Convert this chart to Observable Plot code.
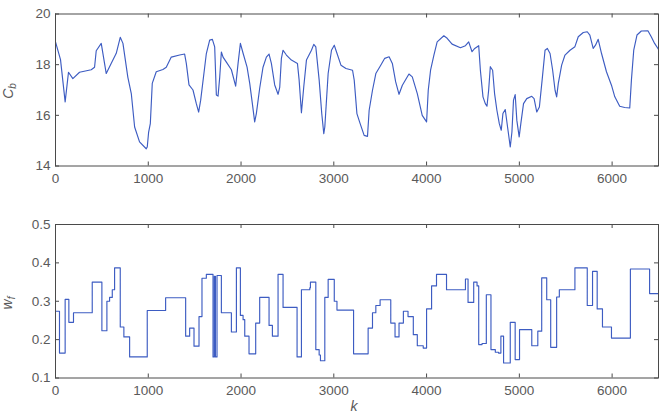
<!DOCTYPE html>
<html>
<head>
<meta charset="utf-8">
<script src="https://cdn.jsdelivr.net/npm/d3@7"></script>
<script src="https://cdn.jsdelivr.net/npm/@observablehq/plot@0.6"></script>
<style>
  html, body { margin: 0; padding: 0; background: #fff; }
  #wrap { width: 666px; height: 414px; overflow: hidden; position: relative; }
  #wrap svg { display: block; }
</style>
</head>
<body>
<div id="wrap"></div>
<script>
// ---- data ----
const xTicks = [0, 1000, 2000, 3000, 4000, 5000, 6000];
const cbTicks = [14, 16, 18, 20];
const wfTicks = [0.1, 0.2, 0.3, 0.4, 0.5];

const cbK = [0,54,104,140,187,259,385,421,439,493,547,600,655,698,727,780,817,853,906,978,989,1004,1022,1043,1086,1158,1194,1248,1338,1392,1410,1439,1482,1518,1543,1565,1608,1626,1662,1691,1716,1734,1752,1770,1788,1806,1842,1896,1942,1968,1993,2022,2065,2094,2122,2147,2165,2201,2237,2273,2302,2327,2363,2399,2417,2435,2453,2489,2543,2608,2626,2651,2676,2705,2759,2784,2806,2842,2870,2892,2903,2939,2975,3005,3023,3077,3131,3202,3220,3249,3284,3327,3363,3381,3417,3453,3506,3549,3596,3631,3667,3703,3739,3810,3846,3900,3953,4000,4018,4043,4079,4114,4186,4222,4275,4365,4419,4454,4490,4519,4562,4580,4608,4633,4651,4669,4687,4712,4733,4758,4784,4805,4823,4848,4873,4902,4920,4937,4955,4973,4998,5016,5045,5080,5134,5159,5188,5216,5249,5277,5302,5331,5359,5385,5402,5420,5456,5492,5546,5599,5635,5689,5732,5760,5796,5821,5850,5886,5939,5993,6029,6082,6136,6190,6208,6233,6268,6315,6386,6422,6458,6494,6500];
const cbV = [18.9,18.2,16.53,17.7,17.45,17.7,17.8,17.9,18.55,18.84,17.65,18.05,18.45,19.08,18.84,17.5,16.86,15.54,14.95,14.68,14.75,15.34,15.67,17.26,17.72,17.81,17.9,18.3,18.38,18.42,18.05,17.2,17.0,16.46,16.13,16.6,17.9,18.44,18.97,19.0,18.7,16.8,16.76,17.5,18.5,18.3,18.1,17.8,17.15,18.05,18.84,18.45,17.9,17.25,16.46,15.74,16.07,17.07,17.9,18.3,18.42,18.05,17.2,16.83,17.1,18.25,18.57,18.38,18.18,18.05,17.4,16.1,17.12,18.18,18.57,18.8,18.7,17.4,16.07,15.28,15.54,17.65,18.57,18.77,18.57,17.98,17.85,17.78,17.39,16.07,15.67,15.21,15.17,16.2,16.99,17.65,17.98,18.25,18.31,18.05,17.32,16.83,17.19,17.63,17.52,16.86,16.0,15.74,16.99,17.78,18.38,18.9,19.14,19.04,18.81,18.67,18.75,18.9,18.51,18.64,18.75,17.78,16.73,16.46,16.36,16.99,17.92,17.78,16.86,16.2,15.67,15.41,16.07,16.23,15.54,14.75,15.34,16.6,16.82,15.8,15.15,15.67,16.46,16.66,16.75,16.66,16.13,16.33,17.52,18.57,18.64,18.44,17.78,16.99,16.73,17.26,17.98,18.38,18.57,18.71,19.1,19.27,19.3,19.17,18.64,18.77,19.0,18.44,17.72,17.19,16.73,16.36,16.31,16.29,17.39,18.57,19.17,19.33,19.34,19.1,18.84,18.64,18.6];

const wfK = [0,43,104,144,194,396,500,554,583,612,637,698,737,799,989,1187,1403,1446,1493,1547,1579,1626,1698,1712,1724,1741,1788,1896,1950,1993,2022,2040,2086,2158,2201,2302,2338,2399,2453,2604,2651,2741,2748,2806,2842,2856,2903,2939,3005,3034,3213,3370,3417,3453,3499,3614,3660,3703,3750,3800,3857,3900,3964,4000,4054,4107,4215,4419,4447,4508,4544,4562,4598,4644,4694,4741,4776,4801,4830,4902,4955,5002,5134,5199,5241,5295,5338,5402,5431,5599,5732,5789,5839,5896,5993,6197,6404,6500];
const wfV = [0.274,0.165,0.305,0.245,0.27,0.35,0.223,0.3,0.31,0.33,0.387,0.233,0.207,0.155,0.276,0.309,0.209,0.23,0.183,0.26,0.36,0.37,0.155,0.365,0.155,0.367,0.27,0.22,0.387,0.263,0.252,0.209,0.163,0.243,0.31,0.237,0.209,0.37,0.284,0.155,0.33,0.335,0.35,0.174,0.16,0.145,0.31,0.357,0.3,0.277,0.163,0.23,0.27,0.289,0.304,0.243,0.207,0.243,0.274,0.26,0.213,0.184,0.178,0.28,0.34,0.37,0.33,0.358,0.297,0.35,0.34,0.187,0.19,0.317,0.174,0.167,0.165,0.209,0.139,0.245,0.148,0.226,0.184,0.222,0.361,0.304,0.18,0.311,0.33,0.387,0.289,0.378,0.28,0.233,0.204,0.384,0.32,0.32];

// ---- build ----
const cbData = cbK.map((k, i) => ({k, v: cbV[i]}));
const wfData = wfK.map((k, i) => ({k, v: wfV[i]}));
if (cbK.length !== cbV.length || wfK.length !== wfV.length) console.error("length mismatch", cbK.length, cbV.length, wfK.length, wfV.length);

const W = 666;
const lineColor = "#3d5cc2";
const axisColor = "#4a4a4a";
const textColor = "#5a5a5a";
const font = "'Liberation Sans', Arial, sans-serif";
const tickLen = 4;

function panel({H, mt, mb, yDomain, yTicks, yFmt, data, curve}) {
  const ml = 55, mr = 8;
  const ph = H - mt - mb, pw = W - ml - mr;
  return Plot.plot({
    width: W, height: H,
    marginLeft: ml, marginRight: mr, marginTop: mt, marginBottom: mb,
    style: {fontFamily: font, fontSize: "13.5px", color: textColor, background: "transparent"},
    x: {domain: [0, 6500]},
    y: {domain: yDomain},
    marks: [
      Plot.line(data, {x: "k", y: "v", stroke: lineColor, strokeWidth: 1.15, curve}),
      Plot.tickX(xTicks, {x: d => d, insetTop: ph - tickLen, stroke: axisColor}),
      Plot.tickX(xTicks, {x: d => d, insetBottom: ph - tickLen, stroke: axisColor}),
      Plot.tickY(yTicks, {y: d => d, insetRight: pw - tickLen, stroke: axisColor}),
      Plot.tickY(yTicks, {y: d => d, insetLeft: pw - tickLen, stroke: axisColor}),
      Plot.axisX({ticks: xTicks, tickSize: 0, tickPadding: 7, label: null, tickFormat: d => String(d)}),
      Plot.axisY({ticks: yTicks, tickSize: 0, tickPadding: 5, label: null, tickFormat: yFmt}),
      Plot.frame({stroke: axisColor, strokeWidth: 1})
    ]
  });
}

const topPanel = panel({H: 200, mt: 13.5, mb: 34.5, yDomain: [14, 20], yTicks: cbTicks, yFmt: d => String(d), data: cbData, curve: "linear"});
const botPanel = panel({H: 214, mt: 24, mb: 36.5, yDomain: [0.1, 0.5], yTicks: wfTicks, yFmt: d => d.toFixed(1), data: wfData, curve: "step-after"});

function addLabel(svg, x, y, main, sub, rotate) {
  const t = d3.select(svg).append("text")
    .attr("transform", `translate(${x},${y})` + (rotate ? " rotate(-90)" : ""))
    .attr("text-anchor", "middle")
    .attr("font-family", font)
    .attr("font-size", 14)
    .attr("font-style", "italic")
    .attr("fill", textColor);
  t.append("tspan").text(main);
  if (sub) t.append("tspan").attr("font-size", 10).attr("dy", 3).text(sub);
}
addLabel(topPanel, 13, 91, "C", "b", true);
addLabel(botPanel, 12, 103, "w", "f", true);
addLabel(botPanel, 354, 210.5, "k", null, false);

document.getElementById("wrap").append(topPanel, botPanel);
</script>
</body>
</html>
